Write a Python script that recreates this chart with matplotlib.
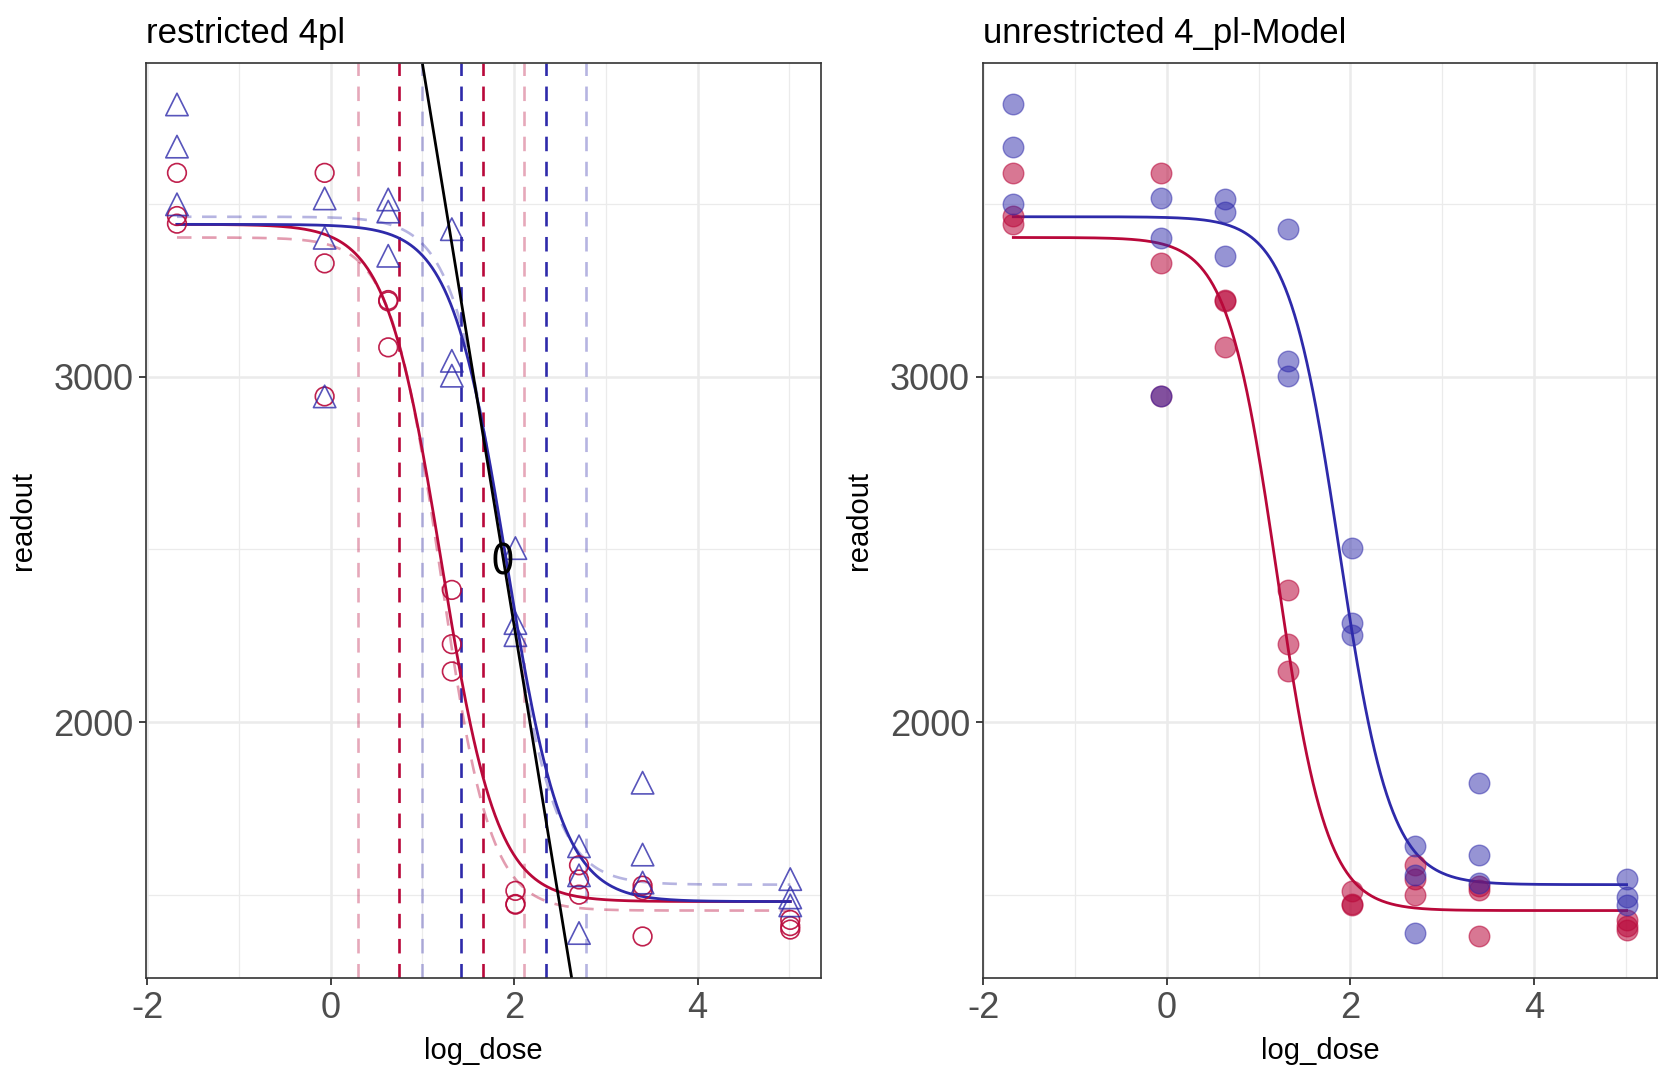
import numpy as np
import matplotlib
matplotlib.use("Agg")
import matplotlib.pyplot as plt
from matplotlib.ticker import FixedLocator

plt.rcParams['font.family'] = ['Liberation Sans', 'DejaVu Sans']
plt.rcParams['axes.unicode_minus'] = False

# log doses (log of 0.1875 ... 30, 150)
log_dose = [-1.674, -0.0645, 0.6286, 1.3218, 2.0149, 2.708, 3.401, 5.0106]

# readouts, three replicates per dose
ref_readout = [
    [3590, 3465, 3443],
    [3590, 3328, 2943],
    [3222, 3218, 3085],
    [2383, 2226, 2147],
    [1512, 1474, 1472],
    [1586, 1545, 1501],
    [1527, 1514, 1380],
    [1428, 1410, 1400],
]
test_readout = [
    [3788, 3666, 3499],
    [3516, 3402, 2943],
    [3513, 3478, 3350],
    [3427, 3046, 3003],
    [2504, 2287, 2252],
    [1641, 1557, 1390],
    [1825, 1617, 1536],
    [1546, 1493, 1470],
]

# fitted 4pl parameters: upper, lower, slope, ec50 (log scale)
restricted_ref = [3441, 1481, 3.3, 1.21]
restricted_test = [3441, 1481, 3.3, 1.92]
unrestricted_ref = [3403, 1455, 3.7, 1.20]
unrestricted_test = [3463, 1530, 3.6, 1.88]

# confidence limits of the ec50s (vertical dashed lines)
ci_ref_restricted = [0.743, 1.667]
ci_ref_unrestricted = [0.304, 2.105]
ci_test_restricted = [1.424, 2.351]
ci_test_unrestricted = [0.993, 2.787]

# straight black line (two points) and its label
black_line_x = [1.004, 2.625]
black_line_y = [3901.5, 1265]
label_pos = (1.875, 2462)
label_text = "0"

RED = "#B9083A"
BLUE = "#2E2AAA"


def four_pl(x, p):
    upper, lower, slope, ec50 = p
    return lower + (upper - lower) / (1 + np.exp(slope * (x - ec50)))


def flat(groups):
    xs, ys = [], []
    for x, vals in zip(log_dose, groups):
        for v in vals:
            xs.append(x)
            ys.append(v)
    return np.array(xs), np.array(ys)


ref_x, ref_y = flat(ref_readout)
test_x, test_y = flat(test_readout)
all_y = np.concatenate([ref_y, test_y])

x_span = max(log_dose) - min(log_dose)
y_span = all_y.max() - all_y.min()
xlim = (min(log_dose) - 0.05 * x_span, max(log_dose) + 0.05 * x_span)
ylim = (all_y.min() - 0.05 * y_span, all_y.max() + 0.05 * y_span)

xx = np.linspace(min(log_dose), max(log_dose), 400)

fig = plt.figure(figsize=(16.74, 10.78), dpi=100)
ax1 = fig.add_axes([0.0874, 0.0927, 0.403, 0.849])
ax2 = fig.add_axes([0.587, 0.0927, 0.403, 0.849])


def style(ax, title):
    ax.set_xlim(*xlim)
    ax.set_ylim(*ylim)
    ax.xaxis.set_major_locator(FixedLocator([-2, 0, 2, 4]))
    ax.xaxis.set_minor_locator(FixedLocator([-1, 1, 3, 5]))
    ax.yaxis.set_major_locator(FixedLocator([2000, 3000]))
    ax.yaxis.set_minor_locator(FixedLocator([1500, 2500, 3500]))
    ax.grid(True, which='major', color='#EBEBEB', lw=1.8, zorder=0)
    ax.grid(True, which='minor', color='#EBEBEB', lw=0.9, zorder=0)
    ax.set_axisbelow(True)
    ax.tick_params(which='major', labelsize=26, labelcolor='#4D4D4D',
                   color='#333333', length=5, width=1.3, pad=4)
    ax.tick_params(which='minor', length=0)
    for s in ax.spines.values():
        s.set_color('#333333')
        s.set_linewidth(1.2)
    ax.set_xlabel("log_dose", fontsize=21, labelpad=8)
    ax.set_ylabel("readout", fontsize=21, labelpad=12)
    ax.set_title(title, loc='left', fontsize=25, pad=14)


# left panel: restricted model
dash = (5.5, 4)
for v in ci_ref_unrestricted:
    ax1.axvline(v, color=RED, alpha=0.35, lw=1.9, dashes=dash, zorder=1)
for v in ci_test_unrestricted:
    ax1.axvline(v, color=BLUE, alpha=0.35, lw=1.9, dashes=dash, zorder=1)
for v in ci_ref_restricted:
    ax1.axvline(v, color=RED, lw=1.9, dashes=dash, zorder=1)
for v in ci_test_restricted:
    ax1.axvline(v, color=BLUE, lw=1.9, dashes=dash, zorder=1)

ax1.plot(xx, four_pl(xx, unrestricted_ref), color=RED, alpha=0.4, lw=1.9,
         dashes=dash, zorder=2)
ax1.plot(xx, four_pl(xx, unrestricted_test), color=BLUE, alpha=0.35, lw=1.9,
         dashes=dash, zorder=2)
ax1.plot(xx, four_pl(xx, restricted_ref), color=RED, lw=2.0, zorder=3)
ax1.plot(xx, four_pl(xx, restricted_test), color=BLUE, lw=2.0, zorder=3)

ax1.scatter(ref_x, ref_y, s=180, facecolors='none', edgecolors=RED,
            linewidths=1.2, alpha=0.9, zorder=4)
ax1.scatter(test_x, test_y, s=260, marker='^', facecolors='none',
            edgecolors=BLUE, linewidths=1.2, alpha=0.8, zorder=4)

ax1.plot(black_line_x, black_line_y, color='black', lw=2.0, zorder=5)
ax1.text(label_pos[0], label_pos[1], label_text, fontsize=30,
         family='DejaVu Sans', fontstretch='condensed',
         ha='center', va='center', zorder=6)
style(ax1, "restricted 4pl")

# right panel: unrestricted model
ax2.plot(xx, four_pl(xx, unrestricted_ref), color=RED, lw=2.0, zorder=3)
ax2.plot(xx, four_pl(xx, unrestricted_test), color=BLUE, lw=2.0, zorder=3)
ax2.scatter(ref_x, ref_y, s=220, color=RED, alpha=0.55, linewidths=1.0,
            zorder=4)
ax2.scatter(test_x, test_y, s=220, color=BLUE, alpha=0.5, linewidths=1.0,
            zorder=4)
style(ax2, "unrestricted 4_pl-Model")

fig.savefig("out.png", dpi=100)
